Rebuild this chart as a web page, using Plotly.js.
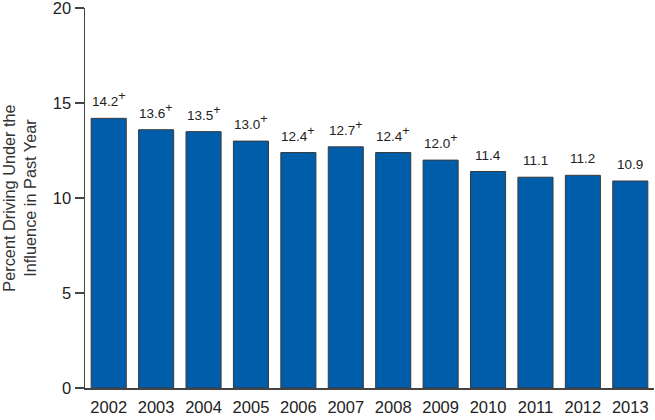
<!DOCTYPE html>
<html><head><meta charset="utf-8">
<script src="https://cdn.plot.ly/plotly-3.0.1.min.js"></script>
<style>html,body{margin:0;padding:0;background:#fff}#c{width:655px;height:420px}</style>
</head><body><div id="c"></div>
<script>
const years = ['2002','2003','2004','2005','2006','2007','2008','2009','2010','2011','2012','2013'];
const percents = [14.2,13.6,13.5,13.0,12.4,12.7,12.4,12.0,11.4,11.1,11.2,10.9];
const significant = [true,true,true,true,true,true,true,true,false,false,false,false];
const yTicks = [0,5,10,15,20];

const labels = percents.map((v,i)=> v.toFixed(1) + (significant[i] ? '<sup><span style="font-size:12.5px">+</span></sup>' : ''));

const trace = {
  type:'bar', x: years, y: percents,
  marker:{color:'#005DAA', line:{color:'#3a3a3a', width:1}},
  hoverinfo:'none'
};
// category axis: annotations positioned by category index of each year
const annotations = years.map((yr,i)=>({
  x: years.indexOf(yr), y: percents[i], xref:'x', yref:'y', text: labels[i],
  showarrow:false, yanchor:'bottom', xanchor:'center', yshift:7,
  font:{family:'Liberation Sans, Arial, sans-serif', size:13.5, color:'#222'}
}));
const layout = {
  width:655, height:420,
  margin:{l:85, r:1, t:8, b:32},
  bargap:0.26,
  paper_bgcolor:'#fff', plot_bgcolor:'#fff',
  showlegend:false,
  annotations: annotations,
  font:{family:'Liberation Sans, Arial, sans-serif', color:'#222'},
  xaxis:{type:'category', range:[-0.5,11.5], showline:true, linecolor:'#444', linewidth:1.5,
    ticks:'', tickfont:{size:16.5, color:'#222'}, ticklabelstandoff:4, showgrid:false, zeroline:false, fixedrange:true},
  yaxis:{range:[0,20.01], tickvals:yTicks, showline:true, linecolor:'#444', linewidth:1.5,
    ticks:'outside', ticklen:9, tickcolor:'#444', tickwidth:1.5, ticklabeloverflow:'allow',
    tickfont:{size:16.5, color:'#222'}, showgrid:false, zeroline:false,
    title:{text:'Percent Driving Under the<br>Influence in Past Year', font:{size:16.3, color:'#333'}, standoff:12}}
};
Plotly.newPlot('c',[trace],layout,{staticPlot:true});
</script></body></html>
